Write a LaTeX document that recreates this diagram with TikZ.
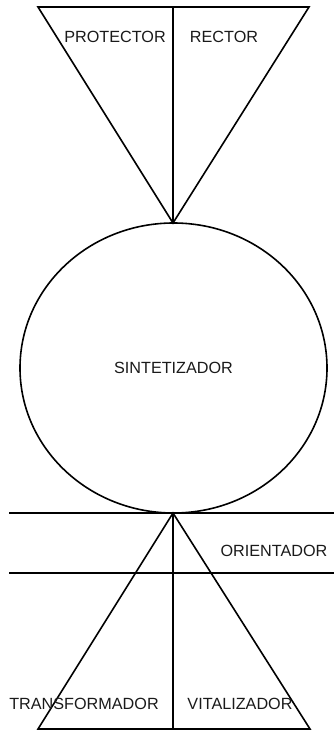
\documentclass[tikz,border=0pt]{standalone}
\usepackage{fontspec}
\setmainfont{Liberation Sans}
\usetikzlibrary{shapes.geometric, positioning}
\definecolor{ink}{HTML}{000000}
\definecolor{inktext}{HTML}{1A1A1A}
\tikzset{
  edge/.style   = {draw=ink, line width=1.6pt, line join=miter},
  label/.style  = {font=\fontsize{16.2}{19}\selectfont, text=inktext, inner sep=0pt, anchor=base},
  orb/.style    = {edge, ellipse, inner sep=0pt, minimum width=307pt, minimum height=290pt,
                   font=\fontsize{16.2}{19}\selectfont, text=inktext},
}
\begin{document}
\begin{tikzpicture}[x=1pt, y=-1pt]
  \useasboundingbox (0,0) rectangle (334,731);

  % upper triangle
  \coordinate (tl) at (38,7);
  \coordinate (tr) at (309,7);
  \coordinate (tm) at (173,7);
  \coordinate (ta) at (173,223);
  \draw[edge] (tl) -- (tr) -- (ta) -- cycle;
  \draw[edge] (tm) -- (ta);
  \node[label] (protector) at (115,42) {PROTECTOR};
  \node[label] (rector) at (224,42) {RECTOR};

  % ellipse
  \node[orb] (sint) at (173.5,368) {SINTETIZADOR};

  % band
  \coordinate (b1l) at (9,513);
  \coordinate (b1r) at (334,513);
  \coordinate (b2l) at (9,573);
  \coordinate (b2r) at (334,573);
  \draw[edge] (b1l) -- (b1r);
  \draw[edge] (b2l) -- (b2r);
  \node[label] (orient) at (274,556) {ORIENTADOR};

  % lower triangle
  \coordinate (ba) at (173,513);
  \coordinate (bl) at (38,729);
  \coordinate (br) at (310,729);
  \coordinate (bm) at (173,729);
  \draw[edge] (ba) -- (br) -- (bl) -- cycle;
  \draw[edge] (ba) -- (bm);
  \node[label] (transf) at (84,709) {TRANSFORMADOR};
  \node[label] (vital) at (240,709) {VITALIZADOR};
\end{tikzpicture}
\end{document}
